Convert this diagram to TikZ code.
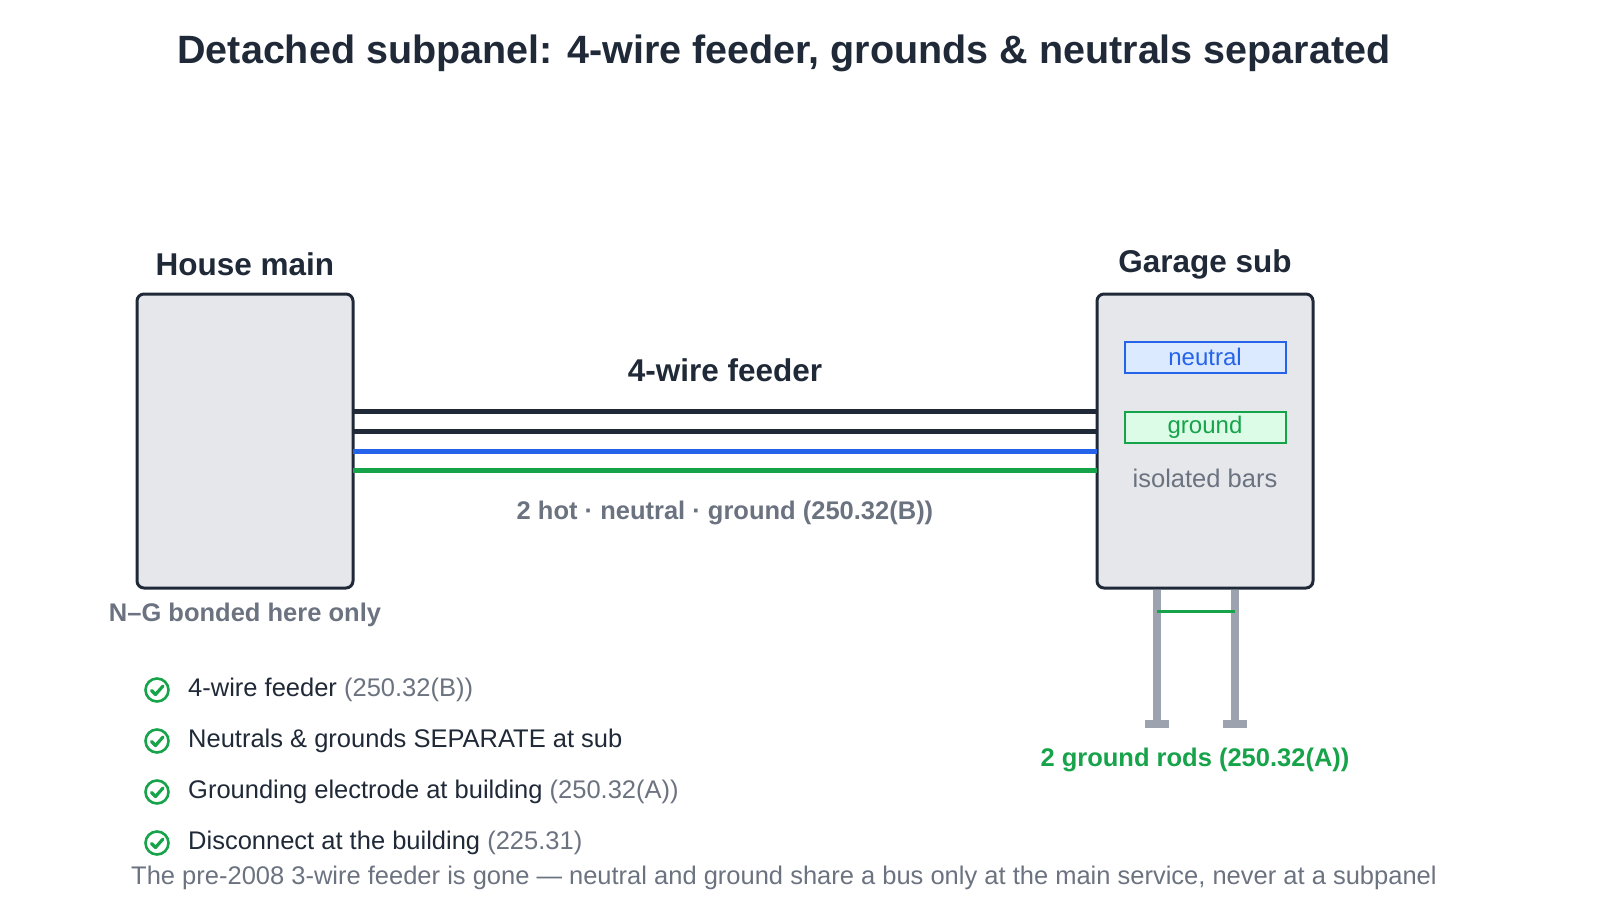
\documentclass[tikz,border=0pt]{standalone}
\usepackage{fontspec}
\setmainfont{Liberation Sans}
\usetikzlibrary{positioning,calc}
\definecolor{ink}{HTML}{1F2937}
\definecolor{muted}{HTML}{6B7280}
\definecolor{panelfill}{HTML}{E5E7EB}
\definecolor{hotblue}{HTML}{2563EB}
\definecolor{gndgreen}{HTML}{16A34A}
\definecolor{rodgray}{HTML}{9CA3AF}
\definecolor{barblue}{HTML}{DBEAFE}
\definecolor{bargreen}{HTML}{DCFCE7}
\newcommand{\checkicon}[1]{%
  \draw[gndgreen, line width=2.6pt] (#1) circle (11.5);
  \draw[gndgreen, line width=3.2pt, line cap=round, line join=round]
    ($(#1)+(-5.5,0.5)$) -- ($(#1)+(-1.5,4.5)$) -- ($(#1)+(6,-4)$);}
\begin{document}
\begin{tikzpicture}
[x=1pt, y=-1pt,
panel/.style={draw=ink, line width=3pt, fill=panelfill, rounded corners=7pt},
bar/.style={line width=2pt, minimum width=161pt, minimum height=31pt, inner sep=0pt, font=\fontsize{24}{27}\selectfont},
wire/.style={line width=5pt},
rod/.style={draw=none, fill=rodgray},
heading/.style={font=\fontsize{31.5}{35}\selectfont\bfseries, text=ink},
note/.style={font=\fontsize{25.5}{29}\selectfont, text=muted},
item/.style={anchor=west, font=\fontsize{25.5}{29}\selectfont, text=ink, inner sep=0pt},
]
    \useasboundingbox (0,0) rectangle (1600,920);
    \node (title) at (784,53) [font=\fontsize{39.5}{44}\selectfont\bfseries, text=ink] {Detached subpanel: 4-wire feeder, grounds \& neutrals separated};
    % panels
    \draw[panel] (137,294) rectangle (353,588);
    \draw[panel] (1097,294) rectangle (1313,588);
    \node (main) at (245,264) [heading] {House main};
    \node (sub) at (1205,264) [heading] {Garage sub};
    \coordinate (mainR) at (353,0);
    \coordinate (subL) at (1097,0);
    % feeder wires
    \foreach \y/\c in {411/ink, 431/ink, 451/hotblue, 470/gndgreen}
        \draw[wire, \c] (mainR |- 0,\y) -- (subL |- 0,\y);
    \node (feeder) at (725,370) [heading] {4-wire feeder};
    \node (feedernote) at (725,513) [note, font=\fontsize{25.5}{29}\selectfont\bfseries] {2 hot · neutral · ground (250.32(B))};
    \node (bond) at (245,615) [note, font=\fontsize{25.5}{29}\selectfont\bfseries] {N–G bonded here only};
    % isolated bars
    \node (neutral) at (1205,357) [bar, draw=hotblue, fill=barblue, text=hotblue] {neutral};
    \node (ground) at (1205,427) [bar, draw=gndgreen, fill=bargreen, text=gndgreen] {ground};
    \node (isolated) at (1205,478) [note] {isolated bars};
    % ground rods
    \foreach \x in {1157,1235} {
        \fill[rod] (\x-4,590) rectangle (\x+4,722);
        \fill[rod] (\x-12,720) rectangle (\x+12,728);
    }
    \draw[gndgreen, line width=3pt] (1157,611) -- (1235,611);
    \node (rods) at (1195,760) [note, text=gndgreen, font=\fontsize{25.5}{29}\selectfont\bfseries] {2 ground rods (250.32(A))};
    % checklist
    \foreach \y/\t/\r [count=\i] in {690/4-wire feeder/(250.32(B)),
        741/Neutrals \& grounds SEPARATE at sub/,
        792/Grounding electrode at building/(250.32(A)),
        843/Disconnect at the building/(225.31)} {
        \coordinate (chk\i) at (157,\y);
        \checkicon{chk\i}
        \node (item\i) at (188,\y) [item] {\t\ \textcolor{muted}{\r}};
    }
    \node (footer) at (784,878) [note] {The pre-2008 3-wire feeder is gone — neutral and ground share a bus only at the main service, never at a subpanel};
\end{tikzpicture}
\end{document}
